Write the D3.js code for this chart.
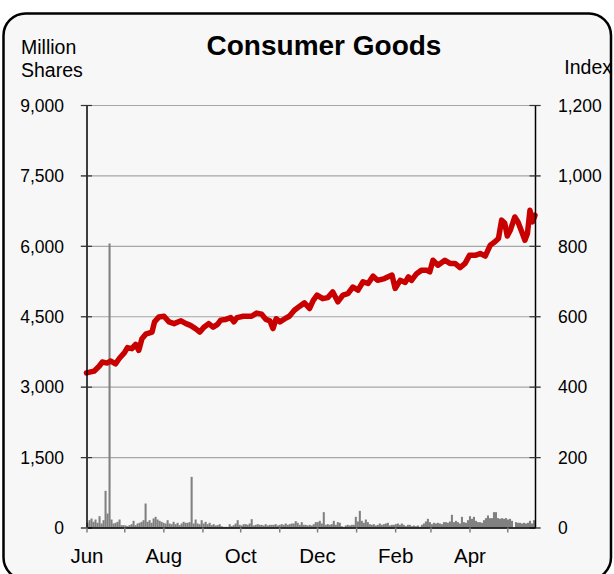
<!DOCTYPE html>
<html>
<head>
<meta charset="utf-8">
<script src="https://cdn.jsdelivr.net/npm/d3@7"></script>
<style>
  html, body { margin: 0; padding: 0; background: #ffffff; }
  svg { display: block; }
  text { font-family: "Liberation Sans", Arial, Helvetica, sans-serif; fill: #000; }
</style>
</head>
<body>
<svg id="chart" width="614" height="574"></svg>
<script>
// ---------------- DATA ----------------
const chartTitle = "Consumer Goods";
const leftTitle = ["Million", "Shares"];
const rightTitle = "Index";
const periodStart = "2006-06-01";
const periodEnd = "2007-05-23";
const volumeTicks = [0, 1500, 3000, 4500, 6000, 7500, 9000];
const indexTicks = [0, 200, 400, 600, 800, 1000, 1200];
const monthLabels = ["Jun", "Aug", "Oct", "Dec", "Feb", "Apr"];

// daily traded volume (million shares)
const volume = [
  100,156,192,121,170,100,241,85,156,781,298,6050,170,85,100,121,170,50,50,43,
  28,50,71,142,50,85,100,121,156,511,121,156,100,192,227,170,142,121,100,85,
  156,85,71,121,71,100,50,85,121,100,100,114,1079,85,170,85,71,156,85,121,
  71,100,50,71,43,50,71,28,14,14,14,71,28,50,85,156,
  57,43,71,71,57,85,178,43,57,71,57,57,43,71,43,57,57,57,71,43,
  57,71,57,85,57,71,85,85,135,100,57,114,57,57,43,57,43,71,114,114,
  142,85,327,57,71,57,71,142,57,114,100,28,14,43,57,43,57,57,227,128,
  355,142,100,170,114,71,57,71,43,57,85,57,71,85,100,
  43,57,57,71,85,57,85,57,28,57,57,28,43,28,43,14,57,85,128,185,
  114,71,100,85,100,85,71,114,114,100,128,270,114,142,114,85,227,114,100,156,
  241,185,227,142,114,114,100,156,199,256,199,199,327,327,199,185,199,185,199,170,
  185,142,0,114,100,100,85,100,85,100,142,85,156
];

// index level: day offset from period start, value
const indexDays = [
  0,6,10,12.5,16.5,19,23,26,30,32.5,36,39,41.5,44,47,52,54,57.5,61.5,65.5,
  69.5,75,79,82.5,86.5,90,93,97,100.5,104,106.5,110.5,114.5,117,119.5,124.5,131,135,139,142.5,
  145.5,148,150.5,153.5,157.5,161,165,169,173,177,180,183,187.5,191.5,195.5,199.5,203.5,207.5,211.5,215.5,
  219.5,223.5,227.5,231,236.5,242.5,245,249,253,255.5,258,262,266,270,272.5,275,279,284.5,288.5,292.5,
  296.5,300.5,304,308.5,312.5,316.5,320.5,324,327,329.5,332,334,336.5,340,342.5,345.5,348,350,352,354,356
];
const indexValues = [
  439,444,458,470,467,473,465,480,496,511,508,520,503,536,549,555,584,598,600,584,
  579,587,579,574,565,555,568,579,569,577,589,591,596,584,596,600,600,609,606,591,
  587,565,593,584,593,600,617,628,638,622,645,660,650,653,669,641,660,664,683,674,
  698,693,714,702,707,717,679,702,696,712,702,721,731,731,726,759,745,759,750,750,
  738,750,773,773,778,771,802,811,821,873,864,828,845,882,868,840,816,835,901,868,887
];

// ---------------- LAYOUT ----------------
const svg = d3.select("#chart");
const plotL = 86.5, plotR = 535, plotT = 105, plotB = 527.5;
const fontFam = '"Liberation Sans", Arial, sans-serif';

const start = d3.timeParse("%Y-%m-%d")(periodStart);
const end = d3.timeParse("%Y-%m-%d")(periodEnd);

const x = d3.scaleTime().domain([start, end]).range([plotL, plotR]);
const xBand = d3.scaleBand().domain(d3.range(volume.length)).range([plotL, plotR]).paddingInner(0);
const yL = d3.scaleLinear().domain([0, 9000]).range([plotB, plotT]);
const yR = d3.scaleLinear().domain([0, 1200]).range([plotB, plotT]);

// frame
svg.append("rect")
  .attr("x", 3.5).attr("y", 13.5)
  .attr("width", 607.5).attr("height", 566)
  .attr("rx", 22).attr("ry", 22)
  .attr("fill", "#f7f7f7")
  .attr("stroke", "#000").attr("stroke-width", 2.5);

// title
svg.append("text")
  .attr("x", 324).attr("y", 55)
  .attr("text-anchor", "middle")
  .style("font-size", "28px").style("font-weight", "bold")
  .text(chartTitle);

// axis titles
svg.append("text").attr("x", 21).attr("y", 54).style("font-size", "19.5px").text(leftTitle[0]);
svg.append("text").attr("x", 21).attr("y", 77).style("font-size", "19.5px").text(leftTitle[1]);
svg.append("text").attr("x", 612).attr("y", 74).attr("text-anchor", "end").style("font-size", "19.5px").text(rightTitle);

// gridlines
const grid = svg.append("g")
  .attr("transform", `translate(${plotR + 6},0)`)
  .call(d3.axisLeft(yL).tickValues(volumeTicks).tickSize(plotR + 6 - (plotL - 6)).tickFormat(""));
grid.select(".domain").remove();
grid.selectAll(".tick line").attr("stroke", "#a6a6a6").attr("stroke-width", 1.2);

// volume bars
svg.append("g").selectAll("rect")
  .data(volume)
  .join("rect")
  .attr("x", (d, i) => xBand(i))
  .attr("width", xBand.bandwidth() + 0.05)
  .attr("y", d => yL(d))
  .attr("height", d => plotB - yL(d))
  .attr("fill", "#808080");

// index line
const lineData = indexDays.map((d, i) => ({ date: new Date(+start + d * 864e5), v: indexValues[i] }));
svg.append("path")
  .datum(lineData)
  .attr("fill", "none")
  .attr("stroke", "#c80000")
  .attr("stroke-width", 5.5)
  .attr("stroke-linejoin", "round")
  .attr("stroke-linecap", "round")
  .attr("d", d3.line().x(d => x(d.date)).y(d => yR(d.v)));

// left axis
const axL = svg.append("g")
  .attr("transform", `translate(${plotL},0)`)
  .call(d3.axisLeft(yL).tickValues(volumeTicks).tickSize(5).tickSizeOuter(0).tickFormat(d3.format(",")));
axL.select(".domain").attr("stroke", "#000").attr("stroke-width", 1.5);
axL.selectAll(".tick line").attr("x1", 5.5).attr("x2", -5.5).attr("stroke", "#333").attr("stroke-width", 1.2);
axL.selectAll(".tick text").attr("x", -22.5).attr("dy", "0.36em")
  .style("font-size", "17.5px").style("font-family", fontFam).attr("fill", "#000");

// right axis
const axR = svg.append("g")
  .attr("transform", `translate(${plotR},0)`)
  .call(d3.axisRight(yR).tickValues(indexTicks).tickSize(5).tickSizeOuter(0).tickFormat(d3.format(",")));
axR.select(".domain").attr("stroke", "#000").attr("stroke-width", 1.5);
axR.selectAll(".tick line").attr("x1", -5.5).attr("x2", 5.5).attr("stroke", "#333").attr("stroke-width", 1.2);
axR.selectAll(".tick text").attr("x", 23).attr("dy", "0.36em")
  .style("font-size", "17.5px").style("font-family", fontFam).attr("fill", "#000");

// bottom axis
const months = d3.timeMonth.range(start, end);
const axB = svg.append("g")
  .attr("transform", `translate(0,${plotB})`)
  .call(d3.axisBottom(x).tickValues(months).tickSize(5).tickSizeOuter(0)
    .tickFormat((d, i) => (i % 2 === 0 ? monthLabels[i / 2] : "")));
axB.select(".domain").attr("stroke", "#000").attr("stroke-width", 1.5);
axB.selectAll(".tick line").attr("stroke", "#808080").attr("stroke-width", 1.5);
axB.selectAll(".tick text").attr("y", 21).attr("dy", "0.71em")
  .style("font-size", "20.5px").style("font-family", fontFam).attr("fill", "#000");
</script>
</body>
</html>
